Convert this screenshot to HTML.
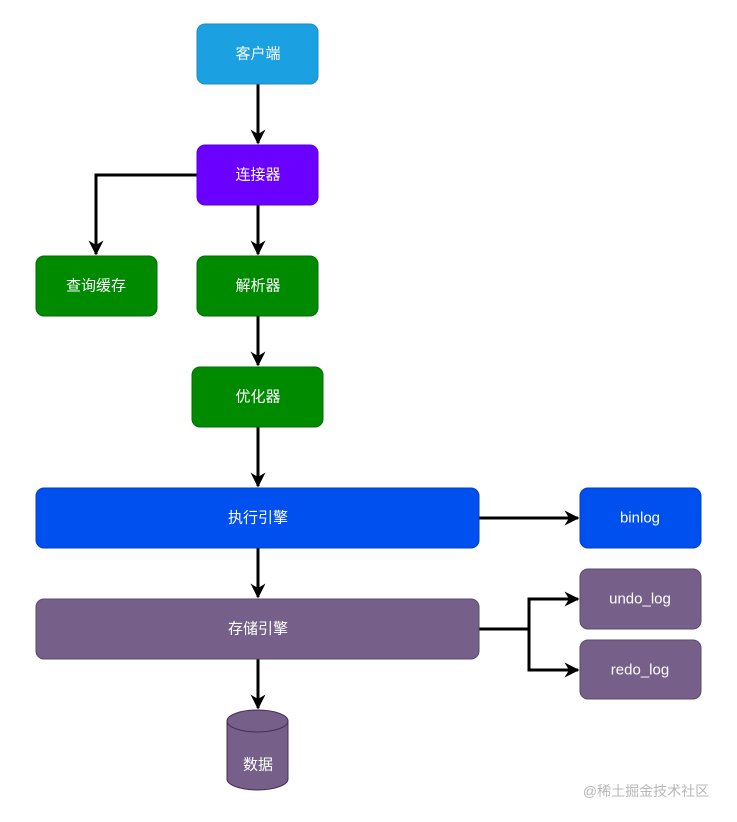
<!DOCTYPE html>
<html><head><meta charset="utf-8"><style>
html,body{margin:0;padding:0;background:#fff;width:737px;height:822px;overflow:hidden}
svg{display:block}
text{font-family:"Liberation Sans","Noto Sans CJK SC",sans-serif;font-size:15px;fill:#fff;text-anchor:middle;dominant-baseline:central}
</style></head><body>
<svg width="737" height="822" viewBox="0 0 737 822" xmlns="http://www.w3.org/2000/svg">
<defs><marker id="a" viewBox="0 0 10 10" refX="9" refY="5" markerWidth="5" markerHeight="5" orient="auto"><path d="M0,0 L10,5 L0,10 L3,5 Z" fill="#000"/></marker></defs>
<g stroke="#000" stroke-width="3" fill="none" marker-end="url(#a)">
<path d="M258 84 V143"/>
<path d="M197 175 H96 V254"/>
<path d="M258 205 V254"/>
<path d="M258 316 V365"/>
<path d="M258 427 V486"/>
<path d="M479 518 H578"/>
<path d="M258 548 V597"/>
<path d="M479 629 H529 V599 H578"/>
<path d="M529 629 V670 H578"/>
<path d="M258 659 V708"/>
</g>
<rect x="197" y="24" width="121" height="60" rx="8" fill="#1ba1e2" stroke="#1a8ccc"/>
<text x="258" y="54">客户端</text>
<rect x="197" y="145" width="121" height="60" rx="8" fill="#6a00ff" stroke="#5a00d8"/>
<text x="258" y="175">连接器</text>
<rect x="36" y="256" width="121" height="60" rx="8" fill="#008a00" stroke="#006e00"/>
<text x="96" y="286">查询缓存</text>
<rect x="197" y="256" width="121" height="60" rx="8" fill="#008a00" stroke="#006e00"/>
<text x="258" y="286">解析器</text>
<rect x="192" y="367" width="131" height="60" rx="8" fill="#008a00" stroke="#006e00"/>
<text x="258" y="397">优化器</text>
<rect x="36" y="488" width="443" height="60" rx="8" fill="#0050ef" stroke="#0040c0"/>
<text x="258" y="518">执行引擎</text>
<rect x="580" y="488" width="121" height="60" rx="8" fill="#0050ef" stroke="#0040c0"/>
<text x="640" y="518">binlog</text>
<rect x="36" y="599" width="443" height="60" rx="8" fill="#76608a" stroke="#5a4a6a"/>
<text x="258" y="629">存储引擎</text>
<rect x="580" y="569" width="121" height="60" rx="8" fill="#76608a" stroke="#5a4a6a"/>
<text x="640" y="599">undo_log</text>
<rect x="580" y="640" width="121" height="59" rx="8" fill="#76608a" stroke="#5a4a6a"/>
<text x="640" y="670">redo_log</text>
<path d="M227 721 A30.5 11 0 0 1 288 721 V779 A30.5 11 0 0 1 227 779 Z" fill="#76608a" stroke="#432d57"/>
<path d="M227 721 A30.5 11 0 0 0 288 721" fill="none" stroke="#432d57"/>
<text x="258" y="765">数据</text>
<text x="646" y="791" style="fill:#b8b8b8;font-size:14px">@稀土掘金技术社区</text>
</svg>
</body></html>
